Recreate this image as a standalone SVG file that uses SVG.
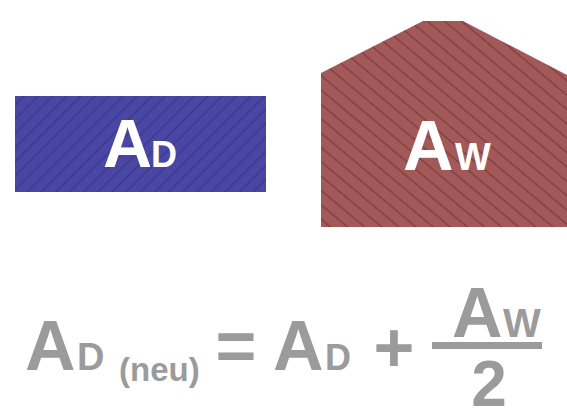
<svg xmlns="http://www.w3.org/2000/svg" width="567" height="410" viewBox="0 0 567 410">
  <defs>
    <pattern id="hatchBlue" patternUnits="userSpaceOnUse" width="10" height="10" patternTransform="rotate(-45)">
      <rect width="10" height="10" fill="#4a46a3"/>
      <line x1="0" y1="5" x2="10" y2="5" stroke="#3a368c" stroke-width="1.3"/>
    </pattern>
    <pattern id="hatchRed" patternUnits="userSpaceOnUse" width="11" height="11" patternTransform="rotate(40)">
      <rect width="11" height="11" fill="#a45959"/>
      <line x1="0" y1="5.5" x2="11" y2="5.5" stroke="#7d3c3c" stroke-width="1.3"/>
    </pattern>
  </defs>
  <style>
    text { font-family: "Liberation Sans", Arial, sans-serif; font-weight: bold; }
    .w { fill: #ffffff; }
    .g { fill: #9b9b9b; }
  </style>
  <rect width="567" height="410" fill="#ffffff"/>
  <g id="node-AD">
    <rect x="15" y="96" width="251" height="96" fill="url(#hatchBlue)"/>
    <text class="w" x="103" y="167" font-size="68">A</text>
    <text class="w" x="151" y="167" font-size="36">D</text>
  </g>
  <g id="node-AW">
    <polygon points="321,73 423,21 463,21 567,75 567,227 321,227" fill="url(#hatchRed)"/>
    <text class="w" x="403" y="170" font-size="70">A</text>
    <text class="w" x="455" y="170" font-size="38">W</text>
  </g>
  <g id="formula">
    <text class="g" x="25" y="370" font-size="70">A</text>
    <text class="g" x="77" y="370" font-size="38">D</text>
    <text class="g" x="119" y="381" font-size="33">(neu)</text>
    <text class="g" x="236" y="370" font-size="70" text-anchor="middle">=</text>
    <text class="g" x="273" y="370" font-size="70">A</text>
    <text class="g" x="325" y="370" font-size="36">D</text>
    <text class="g" x="394" y="372" font-size="70" text-anchor="middle">+</text>
    <text class="g" x="452" y="337" font-size="70">A</text>
    <text class="g" x="503" y="337" font-size="40">W</text>
    <rect class="g" x="432" y="342" width="110" height="7"/>
    <text class="g" x="489" y="406" font-size="64" text-anchor="middle">2</text>
  </g>
  <g id="connectors"/>
</svg>
